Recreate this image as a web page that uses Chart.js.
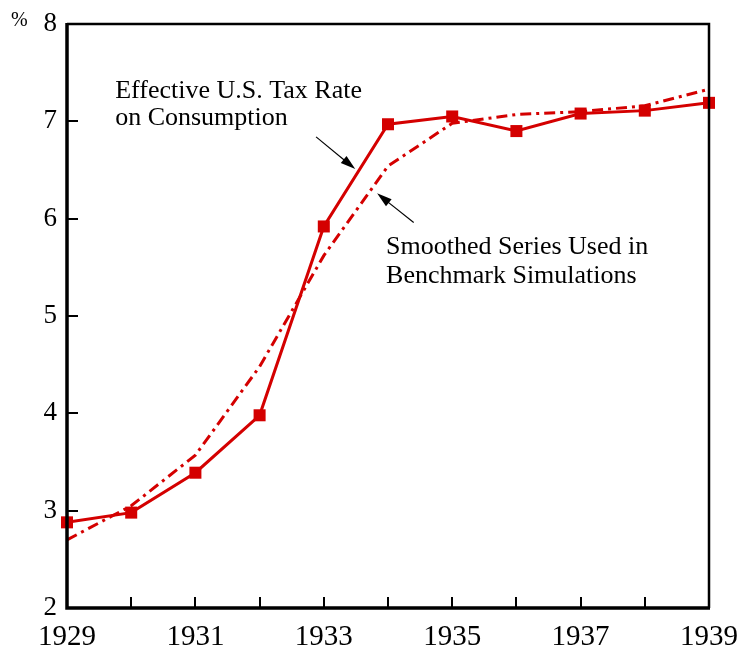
<!DOCTYPE html>
<html>
<head>
<meta charset="utf-8">
<script src="https://cdn.jsdelivr.net/npm/chart.js@4.4.0/dist/chart.umd.min.js"></script>
<style>
  html, body { margin: 0; padding: 0; background: #fff; }
  #wrap { width: 743px; height: 651px; }
</style>
</head>
<body>
<div id="wrap"><canvas id="myChart"></canvas></div>
<script>
'use strict'
// data
const years = [1929, 1930, 1931, 1932, 1933, 1934, 1935, 1936, 1937, 1938, 1939];
const actualRate = [2.88, 2.98, 3.39, 3.98, 5.92, 6.97, 7.05, 6.90, 7.08, 7.11, 7.19];
const smoothedRate = [2.70, 3.05, 3.57, 4.48, 5.62, 6.54, 6.98, 7.07, 7.10, 7.16, 7.33];
const yTicks = [2, 3, 4, 5, 6, 7, 8];
const xLabelYears = [1929, 1931, 1933, 1935, 1937, 1939];

const red = '#d40000';
const serif = '"Liberation Serif", "Times New Roman", serif';

function toPoints(values){
  return years.map((yr, i) => ({x: yr, y: values[i]}));
}

// frame, inside ticks, % sign and the two labelled arrows
const decorPlugin = {
  id: 'decor',
  afterDraw(chart){
    const ctx = chart.ctx;
    const a = chart.chartArea;
    const xs = chart.scales.x;
    const ys = chart.scales.y;
    ctx.save();
    ctx.strokeStyle = '#000';
    ctx.lineCap = 'butt';

    // ticks
    ctx.lineWidth = 2;
    for (let v of yTicks){
      const py = Math.round(ys.getPixelForValue(v));
      ctx.beginPath();
      ctx.moveTo(a.left, py);
      ctx.lineTo(a.left + 11, py);
      ctx.stroke();
    }
    for (let yr of years){
      const px = Math.round(xs.getPixelForValue(yr));
      ctx.beginPath();
      ctx.moveTo(px, a.bottom);
      ctx.lineTo(px, a.bottom - 11);
      ctx.stroke();
    }

    // frame
    ctx.lineWidth = 2.5;
    ctx.beginPath();
    ctx.moveTo(a.left, a.top);
    ctx.lineTo(a.right, a.top);
    ctx.lineTo(a.right, a.bottom);
    ctx.stroke();
    ctx.lineWidth = 3.5;
    ctx.beginPath();
    ctx.moveTo(a.left, a.top - 1);
    ctx.lineTo(a.left, a.bottom);
    ctx.lineTo(a.right + 1, a.bottom);
    ctx.stroke();

    // % sign
    ctx.fillStyle = '#000';
    ctx.font = '20px ' + serif;
    ctx.textAlign = 'left';
    ctx.textBaseline = 'alphabetic';
    ctx.fillText('%', 11, 26);

    // labels
    ctx.font = '26px ' + serif;
    const label = (txt, xv, yv) => ctx.fillText(txt, xs.getPixelForValue(xv), ys.getPixelForValue(yv));
    label('Effective U.S. Tax Rate', 1929.75, 7.24);
    label('on Consumption', 1929.75, 6.96);
    label('Smoothed Series Used in', 1933.97, 5.64);
    label('Benchmark Simulations', 1933.97, 5.34);

    arrow(ctx, xs.getPixelForValue(1932.88), ys.getPixelForValue(6.84),
               xs.getPixelForValue(1933.49), ys.getPixelForValue(6.51));
    arrow(ctx, xs.getPixelForValue(1934.40), ys.getPixelForValue(5.96),
               xs.getPixelForValue(1933.83), ys.getPixelForValue(6.26));
    ctx.restore();
  }
};

function arrow(ctx, x1, y1, x2, y2){
  const ang = Math.atan2(y2 - y1, x2 - x1);
  const len = 15, half = 4.5;
  ctx.lineWidth = 1.2;
  ctx.beginPath();
  ctx.moveTo(x1, y1);
  ctx.lineTo(x2 - Math.cos(ang) * len * 0.8, y2 - Math.sin(ang) * len * 0.8);
  ctx.stroke();
  ctx.beginPath();
  ctx.moveTo(x2, y2);
  ctx.lineTo(x2 - Math.cos(ang) * len - Math.sin(ang) * half, y2 - Math.sin(ang) * len + Math.cos(ang) * half);
  ctx.lineTo(x2 - Math.cos(ang) * len + Math.sin(ang) * half, y2 - Math.sin(ang) * len - Math.cos(ang) * half);
  ctx.closePath();
  ctx.fill();
}

const data = {
  datasets: [
    {
      label: 'Effective U.S. Tax Rate on Consumption',
      data: toPoints(actualRate),
      borderColor: red,
      backgroundColor: red,
      borderWidth: 3,
      pointStyle: 'rect',
      pointRadius: 8.5,
      pointBorderWidth: 0,
      tension: 0,
      clip: false
    },
    {
      label: 'Smoothed Series Used in Benchmark Simulations',
      data: toPoints(smoothedRate),
      borderColor: red,
      borderWidth: 3,
      borderDash: [11, 5, 3, 5],
      pointRadius: 0,
      tension: 0,
      clip: false
    }
  ]
};

const config = {
  type: 'line',
  data: data,
  options: {
    responsive: true,
    maintainAspectRatio: false,
    animation: false,
    layout: { padding: { top: 24, right: 34, left: 0, bottom: 0 } },
    plugins: {
      legend: { display: false },
      tooltip: { enabled: false }
    },
    scales: {
      x: {
        type: 'linear',
        min: 1929,
        max: 1939,
        afterFit(scale){
          scale.height = 43;
          scale.paddingLeft = 0;
          scale.paddingRight = 0;
        },
        afterBuildTicks(scale){ scale.ticks = years.map(v => ({value: v})); },
        grid: { display: false, drawTicks: false },
        border: { display: false },
        ticks: {
          autoSkip: false,
          maxRotation: 0,
          padding: 12,
          color: '#000',
          font: { family: serif, size: 29 },
          callback: v => xLabelYears.includes(v) ? String(v) : ''
        }
      },
      y: {
        min: 2,
        max: 8,
        afterFit(scale){
          scale.width = 67;
          scale.paddingTop = 0;
          scale.paddingBottom = 0;
        },
        afterBuildTicks(scale){ scale.ticks = yTicks.map(v => ({value: v})); },
        grid: { display: false, drawTicks: false },
        border: { display: false },
        ticks: {
          padding: 10,
          color: '#000',
          font: { family: serif, size: 27 }
        }
      }
    }
  },
  plugins: [decorPlugin]
};

let canvasChart = document.getElementById('myChart');
const myChart = new Chart(canvasChart, config);
</script>
</body>
</html>
